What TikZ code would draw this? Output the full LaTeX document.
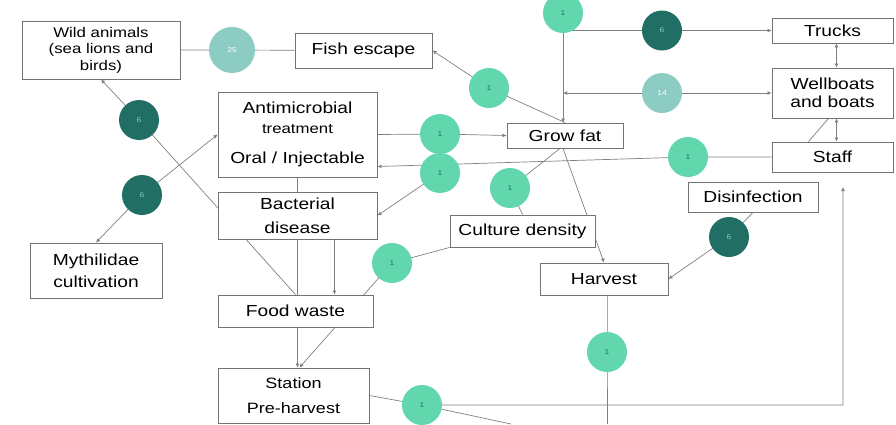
\documentclass[tikz,border=0pt]{standalone}
\usepackage{fontspec}
\setmainfont{Liberation Sans}[FakeStretch=1.2]
\usetikzlibrary{arrows.meta, backgrounds}

\definecolor{mint}{RGB}{98,214,172}
\definecolor{deepteal}{RGB}{32,110,100}
\definecolor{paleteal}{RGB}{140,204,194}

\begin{document}
\begin{tikzpicture}[
  x=1pt, y=-1pt,
  font=\fontsize{16}{18}\selectfont,
  >={Latex[length=4pt,width=4pt]},
  box/.style={draw=black!55, line width=0.9pt, fill=white, align=center, inner sep=1pt},
  badge/.style={circle, minimum size=40pt, inner sep=0pt, font=\fontsize{7}{8}\selectfont},
  mintdot/.style={badge, fill=mint, text=deepteal},
  darkdot/.style={badge, fill=deepteal, text=paleteal},
  paledot/.style={badge, fill=paleteal, text=white},
  link/.style={draw=black!50, line width=0.7pt},
  flow/.style={link, ->},
]
\useasboundingbox (0,0) rectangle (896,424);
% top row
\node[box, minimum width=158pt, minimum height=58pt, font=\fontsize{14}{16.5}\selectfont] (wild) at (101,50) {Wild animals\\(sea lions and\\birds)};
\node[box, minimum width=137pt, minimum height=35pt] (escape) at (363.5,50.5) {Fish escape};
\node[box, minimum width=121pt, minimum height=25pt] (trucks) at (832.5,30.5) {Trucks};
\node[box, minimum width=121pt, minimum height=50pt] (wellboats) at (832.5,93) {Wellboats\\and boats};
\node[box, minimum width=121pt, minimum height=30pt] (staff) at (832.5,157) {Staff};
% middle
\node[box, minimum width=159pt, minimum height=85pt] (treat) at (297.5,134.5) {Antimicrobial\\[2pt]{\fontsize{14}{16}\selectfont treatment}\\[12pt]Oral / Injectable};
\node[box, minimum width=116pt, minimum height=25pt] (grow) at (565,135.5) {Grow fat};
\node[box, minimum width=159pt, minimum height=47pt] (disease) at (297.5,215.5) {Bacterial\\[6pt]disease};
\node[box, minimum width=132pt, minimum height=55pt] (mussel) at (96,270.5) {Mythilidae\\[4pt]cultivation};
\node[box, minimum width=130pt, minimum height=30pt] (disinf) at (753,197) {Disinfection};
\node[box, minimum width=145pt, minimum height=32pt] (density) at (522.5,231) {Culture density};
\node[box, minimum width=128pt, minimum height=32pt] (harvest) at (604,279) {Harvest};
% bottom
\node[box, minimum width=155pt, minimum height=32pt] (waste) at (295.5,311) {Food waste};
\node[box, minimum width=151pt, minimum height=55pt, font=\fontsize{15}{17}\selectfont] (station) at (293.5,395.5) {Station\\[8pt]Pre-harvest};
% risk badges
\node[paledot, minimum size=46pt] (b25) at (232,50) {25};
\node[mintdot] (btop) at (563,13) {1};
\node[darkdot] (btruck) at (662,30.5) {6};
\node[paledot] (bboat) at (662,93) {14};
\node[mintdot] (bescape) at (489,88) {1};
\node[mintdot] (bgrow) at (440,134) {1};
\node[mintdot] (bstaff) at (688,157) {1};
\node[mintdot] (bdisease) at (440,173) {1};
\node[mintdot] (bdensity) at (510,188) {1};
\node[darkdot] (bwild) at (139,120) {6};
\node[darkdot] (bmussel) at (142,195) {6};
\node[darkdot] (bdisinf) at (729,237) {6};
\node[mintdot] (bwaste) at (392,263) {1};
\node[mintdot] (bstation) at (422,405) {1};
\node[mintdot] (bharvest) at (607,352) {1};
\coordinate (harvestout) at (607,424);
\coordinate (stationout) at (511,424);
\coordinate (staffin) at (843,187);
% flows
\begin{scope}[on background layer]
\draw[link] (wild) -- (b25) -- (escape);
\draw[flow] (grow.north) -- (bescape.center) -- (escape.east);
\draw[flow] (btop.center) -- (btop.center |- grow.north);
\draw[flow] (btop.center |- trucks.west) -- (btruck.center) -- (trucks.west);
\draw[flow, <->] (btop.center |- wellboats.west) -- (wellboats.west);
\draw[flow, <->] ([xshift=4pt]trucks.south) -- ([xshift=4pt]wellboats.north);
\draw[flow, <->] ([xshift=4pt]wellboats.south) -- ([xshift=4pt]staff.north);
\draw[link] ([xshift=-24pt]staff.north) -- ([xshift=-4pt]wellboats.south);
\draw[flow] (staff.west) -- (bstaff.center) -- ([yshift=-32pt]treat.east);
\draw[flow] (treat.east) -- (bgrow.center) -- (grow.west);
\draw[flow] (bdisease.center) -- (disease.east);
\draw[link] (density.north) -- (bdensity.center) -- ([xshift=-5pt]grow.south);
\draw[flow] ([xshift=-2pt]grow.south) -- (harvest.north);
\draw[flow, <->] (treat.west) -- (bmussel.center) -- (mussel.north);
\draw[flow] (waste.north) -- (bwild.center) -- (wild.south);
\draw[flow] (treat.south) -- (treat.south |- station.north);
\draw[flow] ([xshift=37pt]disease.south) -- ([xshift=37pt]disease.south |- waste.north);
\draw[flow] (density.south west) -- (bwaste.center) -- ([xshift=6pt]station.north);
\draw[flow] (disinf.south) -- (bdisinf.center) -- (harvest.east);
\draw[link] (harvest.south -| bharvest) -- (bharvest.center) -- (harvestout);
\draw[flow] (station.east) -- (bstation.center) -| (staffin);
\draw[link] (bstation.center) -- (stationout);
\end{scope}
\end{tikzpicture}
\end{document}
